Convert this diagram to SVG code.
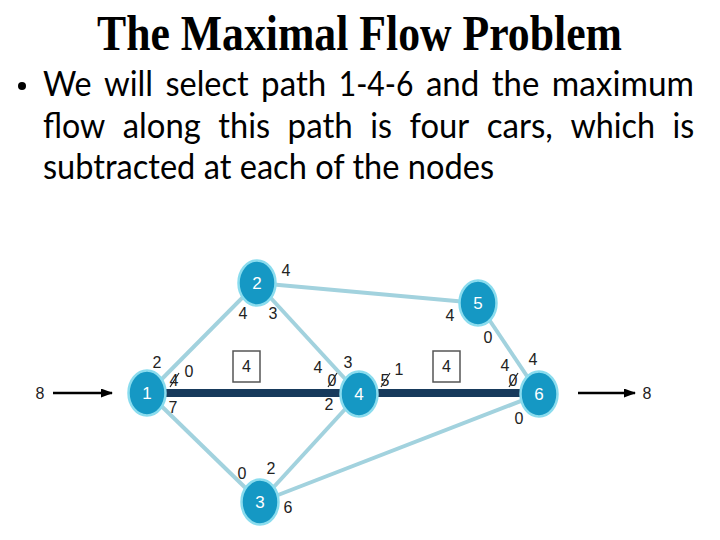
<svg xmlns="http://www.w3.org/2000/svg" width="720" height="540" viewBox="0 0 720 540">
<style>
.title{font-family:"Liberation Serif","Times New Roman",serif;font-weight:bold;font-size:50px;fill:#000}
.body{font-family:Lato,"Liberation Sans",sans-serif;font-size:34px;fill:#000}
.edge{stroke:#a2d2de;stroke-width:4;fill:none}
.path{stroke:#173a5c;stroke-width:8;fill:none}
.node ellipse{fill:#1598c4;stroke:#8adcee;stroke-width:2.5}
.node text{font-family:"Liberation Sans",Arial,sans-serif;font-size:17px;fill:#fff;text-anchor:middle}
.lbl{font-family:"Liberation Sans",Arial,sans-serif;font-size:16px;fill:#222;text-anchor:middle}
.slash{stroke:#222;stroke-width:1.2}
.box{fill:#fff;stroke:#555;stroke-width:1.5}
.arrow{stroke:#000;stroke-width:2.5;fill:none}
</style>
<defs>
<marker id="ah" markerWidth="12" markerHeight="9" refX="11" refY="4.5" orient="auto" markerUnits="userSpaceOnUse">
<path d="M0,0 L12,4.5 L0,9 Z" fill="#000"/>
</marker>
</defs>
<rect width="720" height="540" fill="#fff"/>
<text class="title" x="359.5" y="50" text-anchor="middle" textLength="525" lengthAdjust="spacingAndGlyphs">The Maximal Flow Problem</text>
<circle cx="22" cy="86" r="4" fill="#000"/>
<g class="body">
<text x="43" y="96" textLength="48.6" lengthAdjust="spacingAndGlyphs">We</text>
<text x="104" y="96" textLength="49.1" lengthAdjust="spacingAndGlyphs">will</text>
<text x="165.5" y="96" textLength="83.1" lengthAdjust="spacingAndGlyphs">select</text>
<text x="261.1" y="96" textLength="65.2" lengthAdjust="spacingAndGlyphs">path</text>
<text x="338.7" y="96" textLength="74.7" lengthAdjust="spacingAndGlyphs">1-4-6</text>
<text x="425.9" y="96" textLength="53.5" lengthAdjust="spacingAndGlyphs">and</text>
<text x="491.8" y="96" textLength="47.5" lengthAdjust="spacingAndGlyphs">the</text>
<text x="551.8" y="96" textLength="142.2" lengthAdjust="spacingAndGlyphs">maximum</text>
<text x="43" y="138" textLength="62.2" lengthAdjust="spacingAndGlyphs">flow</text>
<text x="122.7" y="138" textLength="78.1" lengthAdjust="spacingAndGlyphs">along</text>
<text x="218.3" y="138" textLength="51.8" lengthAdjust="spacingAndGlyphs">this</text>
<text x="287.6" y="138" textLength="65.2" lengthAdjust="spacingAndGlyphs">path</text>
<text x="370.3" y="138" textLength="21.7" lengthAdjust="spacingAndGlyphs">is</text>
<text x="409.5" y="138" textLength="59.7" lengthAdjust="spacingAndGlyphs">four</text>
<text x="486.7" y="138" textLength="66.2" lengthAdjust="spacingAndGlyphs">cars,</text>
<text x="570.4" y="138" textLength="84.6" lengthAdjust="spacingAndGlyphs">which</text>
<text x="672.5" y="138" textLength="21.7" lengthAdjust="spacingAndGlyphs">is</text>
<text x="43" y="179" textLength="451" lengthAdjust="spacingAndGlyphs">subtracted at each of the nodes</text>
</g>
<g id="connectors">
<line class="edge" x1="148" y1="393" x2="257" y2="283"/>
<line class="edge" x1="257" y1="283" x2="359" y2="394"/>
<line class="edge" x1="257" y1="283" x2="478" y2="303"/>
<line class="edge" x1="478" y1="303" x2="539" y2="394"/>
<line class="edge" x1="148" y1="393" x2="260" y2="502"/>
<line class="edge" x1="260" y1="502" x2="359" y2="394"/>
<line class="edge" x1="260" y1="502" x2="539" y2="394"/>
<line class="path" x1="148" y1="393" x2="359" y2="393"/>
<line class="path" x1="359" y1="393" x2="539" y2="393"/>
<line class="arrow" x1="53" y1="393" x2="112" y2="393" marker-end="url(#ah)"/>
<line class="arrow" x1="578" y1="393" x2="635" y2="393" marker-end="url(#ah)"/>
</g>
<g id="node1" class="node"><ellipse cx="147" cy="393" rx="18.5" ry="22.5"/><text x="147" y="399">1</text></g>
<g id="node2" class="node"><ellipse cx="257" cy="283" rx="18.5" ry="22.5"/><text x="257" y="289">2</text></g>
<g id="node3" class="node"><ellipse cx="260" cy="502" rx="18.5" ry="22.5"/><text x="260" y="508">3</text></g>
<g id="node4" class="node"><ellipse cx="359" cy="394" rx="18.5" ry="22.5"/><text x="359" y="400">4</text></g>
<g id="node5" class="node"><ellipse cx="478" cy="303" rx="18.5" ry="22.5"/><text x="478" y="309">5</text></g>
<g id="node6" class="node"><ellipse cx="539" cy="394" rx="18.5" ry="22.5"/><text x="539" y="400">6</text></g>
<g id="labels">
<text class="lbl" x="40" y="399">8</text>
<text class="lbl" x="647" y="399">8</text>
<text class="lbl" x="286" y="276">4</text>
<text class="lbl" x="243" y="319">4</text>
<text class="lbl" x="273" y="319">3</text>
<text class="lbl" x="157" y="368">2</text>
<text class="lbl" x="174" y="386">4</text>
<line class="slash" x1="170" y1="387" x2="179" y2="373"/>
<text class="lbl" x="189" y="377">0</text>
<text class="lbl" x="173" y="413">7</text>
<rect class="box" x="233" y="351" width="27" height="31"/>
<text class="lbl" x="246.5" y="372">4</text>
<text class="lbl" x="318" y="373">4</text>
<text class="lbl" x="332" y="386">0</text>
<line class="slash" x1="328" y1="387" x2="337" y2="373"/>
<text class="lbl" x="348" y="368">3</text>
<text class="lbl" x="329" y="410">2</text>
<text class="lbl" x="385" y="386">5</text>
<line class="slash" x1="381" y1="387" x2="390" y2="373"/>
<text class="lbl" x="399" y="375">1</text>
<rect class="box" x="433" y="351" width="27" height="31"/>
<text class="lbl" x="446.5" y="372">4</text>
<text class="lbl" x="505" y="371">4</text>
<text class="lbl" x="513" y="386">0</text>
<line class="slash" x1="509" y1="387" x2="518" y2="373"/>
<text class="lbl" x="533" y="365">4</text>
<text class="lbl" x="519" y="424">0</text>
<text class="lbl" x="450" y="321">4</text>
<text class="lbl" x="488" y="343">0</text>
<text class="lbl" x="242" y="479">0</text>
<text class="lbl" x="271" y="474">2</text>
<text class="lbl" x="288" y="513">6</text>
</g>
</svg>
